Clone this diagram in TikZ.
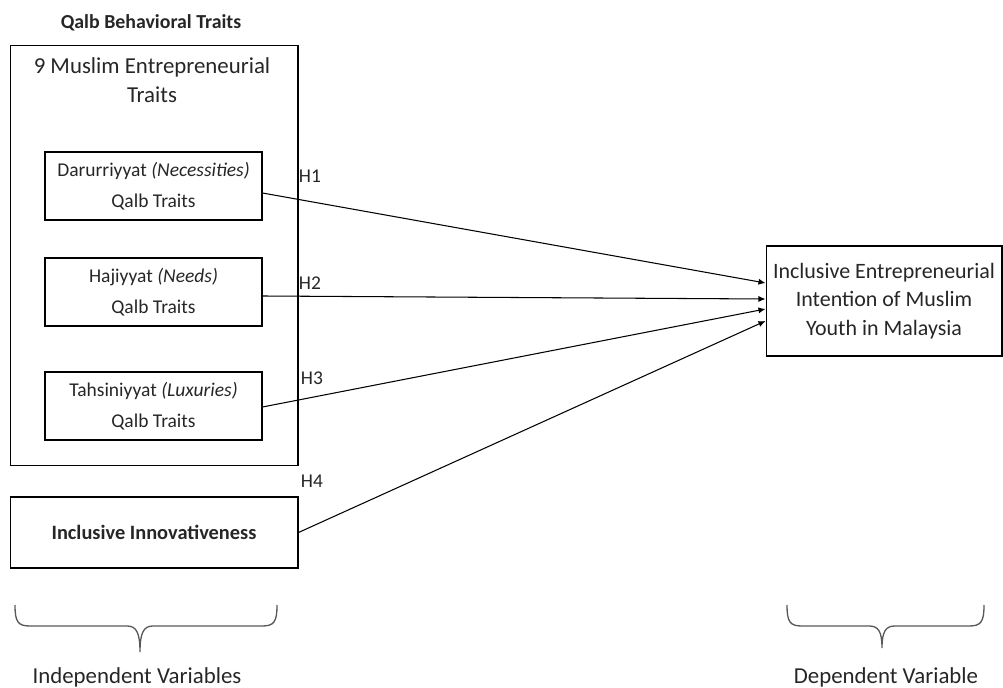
\documentclass[tikz,border=0pt]{standalone}
\usepackage{fontspec}
\setmainfont{Carlito}
\usetikzlibrary{arrows.meta}

\begin{document}
\begin{tikzpicture}[x=0.02cm, y=-0.02cm, line width=0.6pt,
    every node/.style={text=black!85, inner sep=0pt},
    trait/.style={draw, minimum width=4.34cm, minimum height=1.36cm, align=center, font=\fontsize{11.1}{18}\selectfont},
    hyp/.style={font=\fontsize{11.1}{12}\selectfont},
    link/.style={-{Latex[length=4pt,width=3.5pt]}, black},
    curly/.style={draw=black!65, line width=0.75pt}]
            \useasboundingbox (0,0) rectangle (1003,688);
            % independent side
            \node [font=\fontsize{11.3}{12}\selectfont\bfseries] (QBT) at (151,23) {Qalb Behavioral Traits};
            \node [draw, minimum width=5.76cm, minimum height=8.42cm] (Traits) at (154,255.5) {};
            \node [align=center, font=\fontsize{13}{16.4}\selectfont] (TraitsTitle) at (152,80) {9 Muslim Entrepreneurial\\Traits};
            \node [trait] (Darur) at (153.5,186) {Darurriyyat \textit{(Necessities)}\\Qalb Traits};
            \node [trait] (Haji) at (153.5,292) {Hajiyyat \textit{(Needs)}\\Qalb Traits};
            \node [trait] (Tahsin) at (153.5,406) {Tahsiniyyat \textit{(Luxuries)}\\Qalb Traits};
            \node [draw, minimum width=5.76cm, minimum height=1.42cm, font=\fontsize{11.6}{12}\selectfont\bfseries] (Innov) at (154,532.5) {Inclusive Innovativeness};
            % dependent side
            \node [draw, minimum width=4.72cm, minimum height=2.2cm, align=center, font=\fontsize{12.5}{16.4}\selectfont] (Intent) at (884,301) {Inclusive Entrepreneurial\\Intention of Muslim\\Youth in Malaysia};
            % hypotheses
            \path[link] ([yshift=-0.14cm]Darur.east) edge ([yshift=0.36cm]Intent.west);
            \path[link] ([yshift=-0.08cm]Haji.east) edge ([yshift=0.04cm]Intent.west);
            \path[link] ([yshift=-0.02cm]Tahsin.east) edge ([yshift=-0.16cm]Intent.west);
            \path[link] (Innov.east) edge ([yshift=-0.4cm]Intent.west);
            \node [hyp] (H1) at (310,176) {H1};
            \node [hyp] (H2) at (310,283) {H2};
            \node [hyp] (H3) at (312,378) {H3};
            \node [hyp] (H4) at (312,481) {H4};
            % braces
            \coordinate (IVa) at (15,605);
            \coordinate (IVtip) at (140,652);
            \coordinate (IVb) at (277,605);
            \coordinate (DVa) at (787,605);
            \coordinate (DVtip) at (882,648);
            \coordinate (DVb) at (984,605);
            \draw[curly] (IVa) .. controls +(0,17) and +(-12,0) .. (30,626) -- (127,626)
                .. controls +(9,0) and +(0,-20) .. (IVtip) .. controls +(0,-20) and +(-9,0) .. (153,626)
                -- (262,626) .. controls +(12,0) and +(0,17) .. (IVb);
            \draw[curly] (DVa) .. controls +(0,17) and +(-12,0) .. (802,626) -- (869,626)
                .. controls +(9,0) and +(0,-17) .. (DVtip) .. controls +(0,-17) and +(-9,0) .. (895,626)
                -- (969,626) .. controls +(12,0) and +(0,17) .. (DVb);
            \node [font=\fontsize{13}{14}\selectfont] (IV) at (137,677) {Independent Variables};
            \node [font=\fontsize{13}{14}\selectfont] (DV) at (886,677) {Dependent Variable};
        \end{tikzpicture}
\end{document}
